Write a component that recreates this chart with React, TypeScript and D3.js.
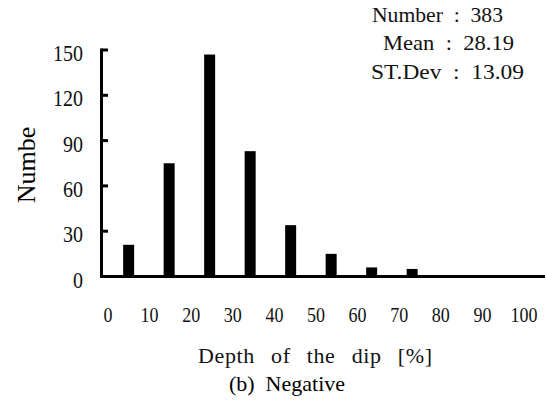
// @ts-nocheck
import { useEffect, useRef } from 'react';
import * as d3 from 'd3';

const binStarts = [0, 10, 20, 30, 40, 50, 60, 70, 80, 90];
const counts = [21, 75, 147, 83, 34, 15, 6, 5, 0, 0];
const xTickLabels = [0, 10, 20, 30, 40, 50, 60, 70, 80, 90, 100];
const yTicks = [0, 30, 60, 90, 120, 150];
const statNames = ['Number', 'Mean', 'ST.Dev'];
const statValues = ['383', '28.19', '13.09'];

const W = 546;
const H = 412;
const condensed = '"Liberation Serif", "DejaVu Serif", serif';
const roman = '"Liberation Serif", "Times New Roman", serif';

export default function App() {
  const svgRef = useRef<SVGSVGElement>(null);

  useEffect(() => {
    if (!svgRef.current) return;
    const svg = d3.select(svgRef.current);
    svg.selectAll('*').remove();

    // scales
    const x = d3.scaleLinear().domain([0, 100]).range([108.4, 513.4]);
    const xLabel = d3.scaleLinear().domain([0, 100]).range([108, 524]);
    const y = d3.scaleLinear().domain([0, 150]).range([276.5, 50]);
    const barW = 11;

    svg.append('rect').attr('width', W).attr('height', H).attr('fill', '#fff');

    // bars
    svg
      .append('g')
      .selectAll('rect')
      .data(counts)
      .join('rect')
      .attr('x', (d, i) => (x(binStarts[i]) + x(binStarts[i] + 10)) / 2 - barW / 2)
      .attr('y', (d) => y(d))
      .attr('width', barW)
      .attr('height', (d) => y(0) - y(d))
      .attr('fill', '#000');

    // y axis line + inward ticks
    svg
      .append('line')
      .attr('x1', 101.5)
      .attr('x2', 101.5)
      .attr('y1', y(150) - 1.5)
      .attr('y2', y(0) + 1.5)
      .attr('stroke', '#000')
      .attr('stroke-width', 3);

    yTicks.forEach((t) => {
      svg
        .append('line')
        .attr('x1', 101.5)
        .attr('x2', 108)
        .attr('y1', y(t))
        .attr('y2', y(t))
        .attr('stroke', '#000')
        .attr('stroke-width', 3);

      const s = String(t);
      svg
        .append('text')
        .attr('x', 83)
        .attr('y', y(t) + 11)
        .attr('text-anchor', 'end')
        .attr('font-family', condensed)
        .attr('font-size', 23)
        .attr('fill', '#111')
        .attr('textLength', s.length * 10)
        .attr('lengthAdjust', 'spacingAndGlyphs')
        .text(s);
    });

    // x axis line
    svg
      .append('line')
      .attr('x1', 100)
      .attr('x2', 545)
      .attr('y1', y(0))
      .attr('y2', y(0))
      .attr('stroke', '#000')
      .attr('stroke-width', 3);

    // x tick labels
    xTickLabels.forEach((t) => {
      const s = String(t);
      svg
        .append('text')
        .attr('x', xLabel(t))
        .attr('y', 322)
        .attr('text-anchor', 'middle')
        .attr('font-family', condensed)
        .attr('font-size', 22)
        .attr('fill', '#111')
        .attr('textLength', s.length * 9)
        .attr('lengthAdjust', 'spacingAndGlyphs')
        .text(s);
    });

    // x title
    svg
      .append('text')
      .attr('x', 315)
      .attr('y', 363)
      .attr('text-anchor', 'middle')
      .attr('font-family', condensed)
      .attr('font-size', 22)
      .attr('fill', '#111')
      .attr('textLength', 234)
      .attr('lengthAdjust', 'spacing')
      .style('word-spacing', '10px')
      .text('Depth of the dip [%]');

    // caption
    svg
      .append('text')
      .attr('x', 287)
      .attr('y', 391)
      .attr('text-anchor', 'middle')
      .attr('font-family', roman)
      .attr('font-size', 22)
      .attr('xml:space', 'preserve')
      .text('(b)  Negative');

    // y title
    svg
      .append('text')
      .attr('transform', 'translate(35,165) rotate(-90)')
      .attr('text-anchor', 'middle')
      .attr('font-family', roman)
      .attr('font-size', 26)
      .text('Numbe');

    // stats box
    const statX = [372, 383, 371];
    const statW = [131, 131, 153];
    statNames.forEach((n, i) => {
      svg
        .append('text')
        .attr('x', statX[i])
        .attr('y', 21.5 + i * 28.5)
        .attr('font-family', condensed)
        .attr('font-size', 21)
        .attr('fill', '#111')
        .attr('textLength', statW[i])
        .attr('lengthAdjust', 'spacingAndGlyphs')
        .attr('xml:space', 'preserve')
        .text(`${n}  :  ${statValues[i]}`);
    });
  }, []);

  return (
    <svg
      ref={svgRef}
      width={W}
      height={H}
      style={{ position: 'absolute', left: 0, top: 0, display: 'block' }}
    />
  );
}
